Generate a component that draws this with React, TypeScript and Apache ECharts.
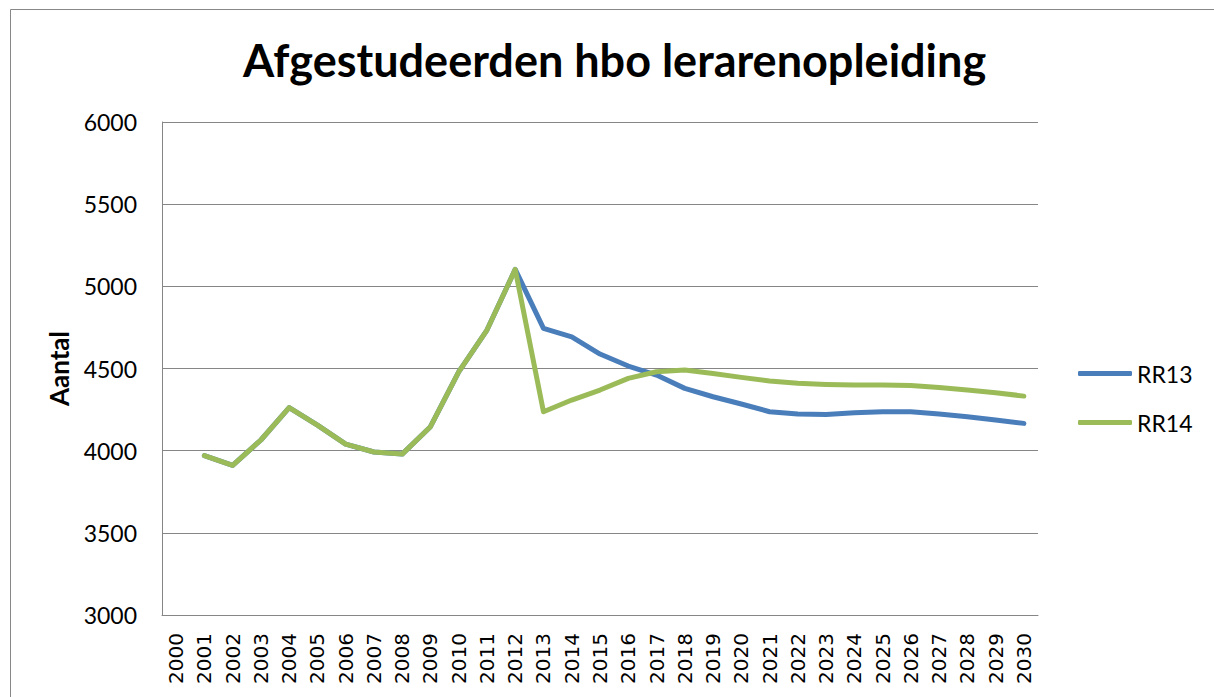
import React, { useEffect, useRef } from "react";
import * as echarts from "echarts";

const years = [
  "2000", "2001", "2002", "2003", "2004", "2005", "2006", "2007", "2008", "2009",
  "2010", "2011", "2012", "2013", "2014", "2015", "2016", "2017", "2018", "2019",
  "2020", "2021", "2022", "2023", "2024", "2025", "2026", "2027", "2028", "2029", "2030",
];

const rr13 = [
  null, 3970, 3910, 4065, 4262, 4155, 4040, 3992, 3979, 4146, 4480, 4734, 5103,
  4744, 4693, 4588, 4515, 4460, 4379, 4328, 4284, 4237, 4223, 4220, 4231, 4237,
  4237, 4223, 4206, 4186, 4166,
];

const rr14 = [
  null, 3970, 3910, 4065, 4262, 4155, 4040, 3992, 3979, 4146, 4480, 4734, 5103,
  4237, 4308, 4369, 4440, 4480, 4491, 4470, 4446, 4424, 4410, 4403, 4399, 4399,
  4396, 4385, 4369, 4353, 4332,
];

const FONT = "Lato, 'Liberation Sans', sans-serif";

export default function App() {
  const ref = useRef<HTMLDivElement>(null);

  useEffect(() => {
    if (!ref.current) return;
    const chart = echarts.init(ref.current, undefined, { renderer: "svg" });
    chart.setOption({
      animation: false,
      backgroundColor: "#ffffff",
      textStyle: { fontFamily: FONT },
      title: {
        text: "Afgestudeerden hbo lerarenopleiding",
        left: 243,
        top: 37,
        padding: 0,
        textStyle: { fontFamily: FONT, fontWeight: "bold", fontSize: 45, color: "#000" },
      },
      graphic: [
        {
          type: "rect",
          shape: { x: 10.5, y: 9.5, width: 1400, height: 900 },
          style: { fill: "none", stroke: "#878787", lineWidth: 1 },
          silent: true,
        },
      ],
      legend: {
        orient: "vertical",
        left: 1078,
        top: 362,
        padding: 0,
        itemWidth: 54,
        itemHeight: 5,
        itemGap: 26,
        icon: "roundRect",
        textStyle: { fontFamily: FONT, fontSize: 23, color: "#000" },
        data: ["RR13", "RR14"],
      },
      grid: { left: 162, right: 176, top: 122, bottom: 82 },
      xAxis: {
        type: "category",
        data: years,
        boundaryGap: true,
        axisLine: { lineStyle: { color: "#868686", width: 1 } },
        axisTick: { show: false },
        axisLabel: {
          rotate: 90,
          interval: 0,
          margin: 18,
          fontFamily: "'DejaVu Sans', sans-serif",
          fontSize: 20,
          color: "#000",
        },
      },
      yAxis: {
        type: "value",
        min: 3000,
        max: 6000,
        interval: 500,
        name: "Aantal",
        nameLocation: "middle",
        nameRotate: 90,
        nameGap: 90,
        nameTextStyle: { fontFamily: FONT, fontWeight: "bold", fontSize: 26, color: "#000" },
        axisLine: { show: true, lineStyle: { color: "#868686", width: 1 } },
        axisTick: { show: false },
        splitLine: { lineStyle: { color: "#868686", width: 1 } },
        axisLabel: {
          margin: 25,
          fontFamily: FONT,
          fontSize: 23,
          color: "#000",
          formatter: (v: number) => String(v),
        },
      },
      series: [
        {
          name: "RR13",
          type: "line",
          data: rr13,
          symbol: "none",
          color: "#4a7ebb",
          lineStyle: { width: 5, color: "#4a7ebb", cap: "round", join: "round" },
        },
        {
          name: "RR14",
          type: "line",
          data: rr14,
          symbol: "none",
          color: "#9bbb59",
          lineStyle: { width: 5, color: "#9bbb59", cap: "round", join: "round" },
        },
      ],
    });
    return () => chart.dispose();
  }, []);

  return (
    <div
      ref={ref}
      style={{ position: "fixed", left: 0, top: 0, width: 1214, height: 697, background: "#fff" }}
    />
  );
}
